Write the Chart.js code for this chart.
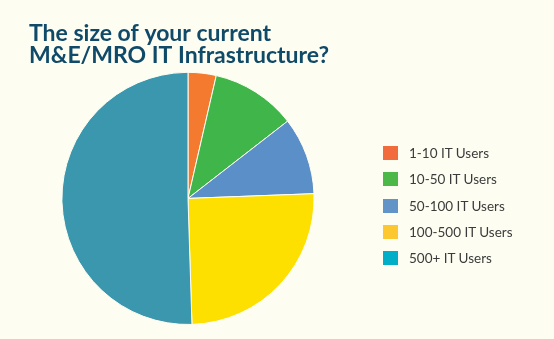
<!DOCTYPE html>
<html>
<head>
<meta charset="utf-8">
<script src="https://cdn.jsdelivr.net/npm/chart.js@4"></script>
<style>
  html, body { margin: 0; padding: 0; background: #fefdf2; }
  #wrap { position: relative; width: 554px; height: 339px; }
  #legend { position: absolute; left: 383px; top: 146px; font-family: Lato, sans-serif; font-size: 13.5px; color: #3b3b3b; }
  #legend div { height: 26.3px; display: flex; align-items: flex-start; white-space: nowrap; }
  #legend span.box { display: inline-block; width: 15px; height: 14px; margin-right: 11px; }
  #legend span.txt { line-height: 14px; }
</style>
</head>
<body>
<div id="wrap">
  <canvas id="pie" width="554" height="339"></canvas>
  <div id="legend"></div>
</div>
<script>
(function() {

    const categories = ['1-10 IT Users', '10-50 IT Users', '50-100 IT Users', '100-500 IT Users', '500+ IT Users'];
    const shares = [3.6, 10.9, 9.9, 25.1, 50.5];

    const sliceColors = ['#f47a30', '#3fb54a', '#5b8fc8', '#fde000', '#3b97ad'];
    const legendColors = ['#f26b3d', '#4cb848', '#6394c8', '#fdc82f', '#00aec7'];

    const chart = new Chart(
      document.getElementById('pie'),
      {
        type: 'pie',
        data: {
            labels: categories,
            datasets: [{
                data: shares,
                backgroundColor: sliceColors,
                borderColor: '#fefdf2',
                borderWidth: 1
            }]
        },
        options: {
            responsive: false,
            animation: false,
            layout: {
                padding: { left: 29, right: 207, top: 0, bottom: 14 }
            },
            plugins: {
                legend: { display: false },
                tooltip: { enabled: false },
                title: {
                    display: true,
                    align: 'start',
                    text: ['The size of your current', 'M&E/MRO IT Infrastructure?'],
                    color: '#0f4a69',
                    font: { family: 'Lato', size: 23, weight: 'bold', lineHeight: 0.975 },
                    padding: { top: 22, bottom: 5 }
                }
            }
        }
    });

    // html legend built from the chart's labels
    const box = document.getElementById('legend');
    chart.data.labels.forEach(function(lbl, i) {
        const row = document.createElement('div');
        row.innerHTML = '<span class="box" style="background:' + legendColors[i] + '"></span><span class="txt">' + lbl + '</span>';
        box.appendChild(row);
    });
})();
</script>
</body>
</html>
